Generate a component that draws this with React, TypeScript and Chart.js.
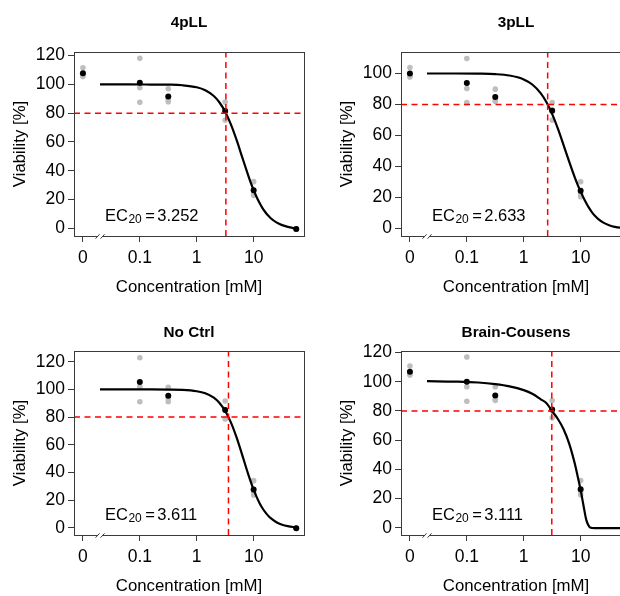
import { useEffect, useRef } from "react";
import { Chart, registerables } from "chart.js";

Chart.register(...registerables);

const FONT_FAMILY = "'Liberation Sans', Arial, Helvetica, sans-serif";
const RED = "#ff0000";
const GREY = "#bebebe";
const INK = "#000000";
const FRAME = "#3a3a3a";

// ---------- x axis (concentration, log scale; dose 0 is drawn at ZERO_AT) ----------
const DOSES = [0, 0.1, 0.316, 3.16, 10, 56];
const NO_CTRL_DOSES = [0.1, 0.316, 3.16, 10, 56];
const ZERO_AT = 0.01;
const BREAK_AT = 0.02;
const X_MIN = 0.00697;
const X_MAX = 76.7;
const X_TICKS = [0.01, 0.1, 1, 10];
const X_TICK_LABELS = ["0", "0.1", "1", "10"];
const THRESHOLD = 80;

// ---------- y ticks ----------
const Y_TICKS_120 = [0, 20, 40, 60, 80, 100, 120];
const Y_TICKS_100 = [0, 20, 40, 60, 80, 100];

// ---------- fitted curves at these concentrations ----------
const CURVE_X = [0.01995, 0.0631, 0.1585, 0.3162, 0.5623, 1, 1.4125, 1.9953, 2.5119, 3.1623, 3.9811, 5.0119, 6.3096, 7.9433, 8.9125, 10, 11.22, 12.589, 14.125, 15.849, 17.783, 19.953, 25.119, 31.623, 39.811, 56.234];

// 4pLL
const LL4_REPS = [[111.6, 105.4, 106.1], [118.1, 97.7, 87.5], [97.0, 88.0, 89.5], [87.8, 75.3, 81.4], [32.4, 22.9, 23.9], [-0.3, -0.6, -0.6]];
const LL4_MEANS = [107.7, 101.1, 91.5, 81.5, 26.4, -0.5];
const LL4_CURVE = [100, 100, 99.9, 99.8, 99.4, 98.0, 95.9, 91.9, 87.4, 81.0, 72.2, 61.4, 49.3, 37.3, 31.6, 26.6, 21.9, 17.9, 14.4, 11.5, 9.0, 7.0, 4.1, 2.2, 1.0, -0.2];
const LL4_EC20 = 3.252;

// 3pLL
const LL3_REPS = [[103.9, 98.3, 97.8], [109.7, 90.3, 81.3], [89.9, 82.1, 82.7], [81.3, 69.9, 76.5], [30.1, 20.4, 22.4], [-0.3, -0.7, -0.7]];
const LL3_MEANS = [100.0, 93.8, 84.9, 75.9, 24.3, -0.57];
const LL3_CURVE = [100, 100, 99.9, 99.6, 98.7, 96.2, 92.9, 87.2, 81.4, 73.8, 64.4, 53.8, 42.9, 32.6, 27.9, 23.7, 19.8, 16.2, 13.0, 10.3, 8.1, 6.3, 3.7, 2.0, 0.9, 0.2];
const LL3_EC20 = 2.633;

// No Ctrl
const NOCTRL_REPS = [[122.9, 102.0, 91.1], [101.5, 93.6, 91.1], [91.6, 78.6, 85.1], [34.0, 23.6, 25.5], [-0.2, -0.4, -0.5]];
const NOCTRL_MEANS = [105.3, 95.4, 85.1, 27.7, -0.37];
const NOCTRL_CURVE = [100, 100, 100, 99.9, 99.7, 98.7, 97.2, 94.0, 90.2, 84.4, 76.2, 65.3, 52.5, 39.3, 33.2, 27.5, 22.5, 18.1, 14.4, 11.4, 8.9, 6.85, 3.95, 2.17, 1.09, 0.2];
const NOCTRL_EC20 = 3.611;

// Brain-Cousens
const BC_REPS = [[110.8, 104.6, 105.3], [117.0, 96.6, 86.7], [96.6, 87.2, 88.0], [87.2, 75.3, 80.5], [32.3, 22.5, 24.4], [-0.2, -0.3, -0.5]];
const BC_MEANS = [106.9, 100.1, 90.6, 81.0, 26.4, -0.33];
const BC_CURVE = [100.4, 100.1, 99.5, 98.4, 96.9, 94.3, 91.8, 88.0, 85.3, 79.8, 74.5, 67.5, 57.5, 43.5, 34.8, 25.8, 15.2, 5.2, 0.8, -0.2, -0.3, -0.3, -0.3, -0.3, -0.3, -0.3];
const BC_EC20 = 3.111;

const PANELS = [
  { title: "4pLL", doses: DOSES, reps: LL4_REPS, means: LL4_MEANS, curve: LL4_CURVE, ec20: LL4_EC20, yMin: -5.35, yMax: 122.5, yTicks: Y_TICKS_120 },
  { title: "3pLL", doses: DOSES, reps: LL3_REPS, means: LL3_MEANS, curve: LL3_CURVE, ec20: LL3_EC20, yMin: -4.97, yMax: 113.9, yTicks: Y_TICKS_100 },
  { title: "No Ctrl", doses: NO_CTRL_DOSES, reps: NOCTRL_REPS, means: NOCTRL_MEANS, curve: NOCTRL_CURVE, ec20: NOCTRL_EC20, yMin: -5.3, yMax: 127.8, yTicks: Y_TICKS_120 },
  { title: "Brain-Cousens", doses: DOSES, reps: BC_REPS, means: BC_MEANS, curve: BC_CURVE, ec20: BC_EC20, yMin: -5.0, yMax: 121.1, yTicks: Y_TICKS_120 },
];

// panel placement (styling only)
const PANEL_W = 330;
const PANEL_H = 299;
const PLACEMENT = [
  { left: 0, top: 0, titleY: 22.8 },
  { left: 327, top: 0, titleY: 22.8 },
  { left: 0, top: 299, titleY: 33.5 },
  { left: 327, top: 299, titleY: 33.5 },
];

function decorations(spec: any, titleY: number) {
  return {
    id: "decorations",
    afterDraw(chart: any) {
      const { ctx, chartArea: a, scales } = chart;
      ctx.save();
      // frame
      ctx.strokeStyle = FRAME;
      ctx.lineWidth = 1;
      ctx.strokeRect(a.left + 0.5, a.top + 0.5, a.right - a.left, a.bottom - a.top);
      // axis break marks
      const bx = scales.x.getPixelForValue(BREAK_AT);
      const by = a.bottom + 0.5;
      ctx.fillStyle = "#ffffff";
      ctx.fillRect(bx - 2.5, by - 1.5, 5, 3);
      ctx.beginPath();
      for (const dx of [-2.5, 2.5]) {
        ctx.moveTo(bx + dx - 2, by + 2.2);
        ctx.lineTo(bx + dx + 2, by - 2.2);
      }
      ctx.stroke();
      // EC20 label
      const big = `16.5px ${FONT_FAMILY}`;
      const small = `12px ${FONT_FAMILY}`;
      const ty = a.bottom - 15.3;
      let tx = a.left + 31;
      ctx.fillStyle = INK;
      ctx.textAlign = "left";
      ctx.textBaseline = "alphabetic";
      ctx.font = big;
      ctx.fillText("EC", tx, ty);
      tx += ctx.measureText("EC").width + 0.5;
      ctx.font = small;
      ctx.fillText("20", tx, ty + 2);
      tx += ctx.measureText("20").width + 3.4;
      ctx.font = big;
      ctx.fillText("=", tx, ty);
      tx += ctx.measureText("=").width + 2.4;
      ctx.fillText(spec.ec20.toFixed(3), tx, ty);
      // panel title
      ctx.font = `bold 15.3px ${FONT_FAMILY}`;
      ctx.textAlign = "center";
      ctx.textBaseline = "middle";
      ctx.fillText(spec.title, (a.left + a.right) / 2, titleY);
      ctx.restore();
    },
  };
}

function Panel({ spec, place }: { spec: any; place: any }) {
  const ref = useRef<HTMLCanvasElement | null>(null);
  useEffect(() => {
    const canvas = ref.current;
    if (!canvas) return;
    const pos = (d: number) => (d === 0 ? ZERO_AT : d);
    const grey = spec.doses.flatMap((d: number, i: number) => spec.reps[i].map((v: number) => ({ x: pos(d), y: v })));
    const means = spec.doses.map((d: number, i: number) => ({ x: pos(d), y: spec.means[i] }));
    const curve = CURVE_X.map((x, i) => ({ x, y: spec.curve[i] }));
    const tickFont = { family: FONT_FAMILY, size: 17.5 };
    const titleFont = { family: FONT_FAMILY, size: 16.8 };
    const chart = new Chart(canvas, {
      type: "scatter",
      data: {
        datasets: [
          {
            type: "line",
            data: [{ x: X_MIN, y: THRESHOLD }, { x: X_MAX, y: THRESHOLD }],
            borderColor: RED,
            borderWidth: 1.5,
            borderDash: [6, 4.5],
            pointRadius: 0,
            fill: false,
          },
          {
            type: "line",
            data: [{ x: spec.ec20, y: spec.yMin }, { x: spec.ec20, y: spec.yMax }],
            borderColor: RED,
            borderWidth: 1.5,
            borderDash: [6, 4.5],
            pointRadius: 0,
            fill: false,
          },
          {
            type: "scatter",
            data: means,
            pointRadius: 3,
            backgroundColor: INK,
            borderWidth: 0,
          },
          {
            type: "line",
            data: curve,
            borderColor: INK,
            borderWidth: 2.2,
            pointRadius: 0,
            cubicInterpolationMode: "monotone",
            fill: false,
          },
          {
            type: "scatter",
            data: grey,
            pointRadius: 2.8,
            backgroundColor: GREY,
            borderWidth: 0,
          },
        ],
      } as any,
      options: {
        responsive: false,
        animation: false,
        events: [],
        layout: { padding: { top: 52, right: PANEL_W - 304, bottom: 0, left: 0 } },
        plugins: { legend: { display: false }, tooltip: { enabled: false }, title: { display: false } },
        scales: {
          x: {
            type: "logarithmic",
            bounds: "data",
            min: X_MIN,
            max: X_MAX,
            afterBuildTicks: (s: any) => {
              s.ticks = X_TICKS.map((v) => ({ value: v }));
            },
            afterFit: (s: any) => {
              s.height = PANEL_H - 236;
            },
            ticks: {
              autoSkip: false,
              maxRotation: 0,
              minRotation: 0,
              padding: 5.5,
              color: INK,
              font: tickFont,
              callback: (_v: any, i: number) => X_TICK_LABELS[i],
            },
            grid: { display: true, drawOnChartArea: false, drawTicks: true, tickLength: 6, tickColor: FRAME, tickWidth: 1 },
            border: { display: false },
            title: { display: true, text: "Concentration [mM]", color: INK, font: titleFont, padding: { top: 0, bottom: 1.5 } },
          },
          y: {
            type: "linear",
            bounds: "data",
            min: spec.yMin,
            max: spec.yMax,
            afterBuildTicks: (s: any) => {
              s.ticks = spec.yTicks.map((v: number) => ({ value: v }));
            },
            afterFit: (s: any) => {
              s.width = 74;
            },
            ticks: { padding: 3, color: INK, font: tickFont },
            grid: { display: true, drawOnChartArea: false, drawTicks: true, tickLength: 6, tickColor: FRAME, tickWidth: 1 },
            border: { display: false },
            title: { display: true, text: "Viability [%]", color: INK, font: titleFont, padding: { top: 10, bottom: 0 } },
          },
        },
      } as any,
      plugins: [decorations(spec, place.titleY)],
    });
    return () => chart.destroy();
  }, [spec, place]);
  return (
    <div style={{ position: "absolute", left: place.left, top: place.top, width: PANEL_W, height: PANEL_H }}>
      <canvas ref={ref} width={PANEL_W} height={PANEL_H} style={{ width: PANEL_W, height: PANEL_H, display: "block" }} />
    </div>
  );
}

export default function App() {
  return (
    <div style={{ position: "fixed", left: 0, top: 0, width: 620, height: 596, overflow: "hidden", background: "#ffffff" }}>
      {PANELS.map((spec, i) => (
        <Panel key={spec.title} spec={spec} place={PLACEMENT[i]} />
      ))}
    </div>
  );
}
